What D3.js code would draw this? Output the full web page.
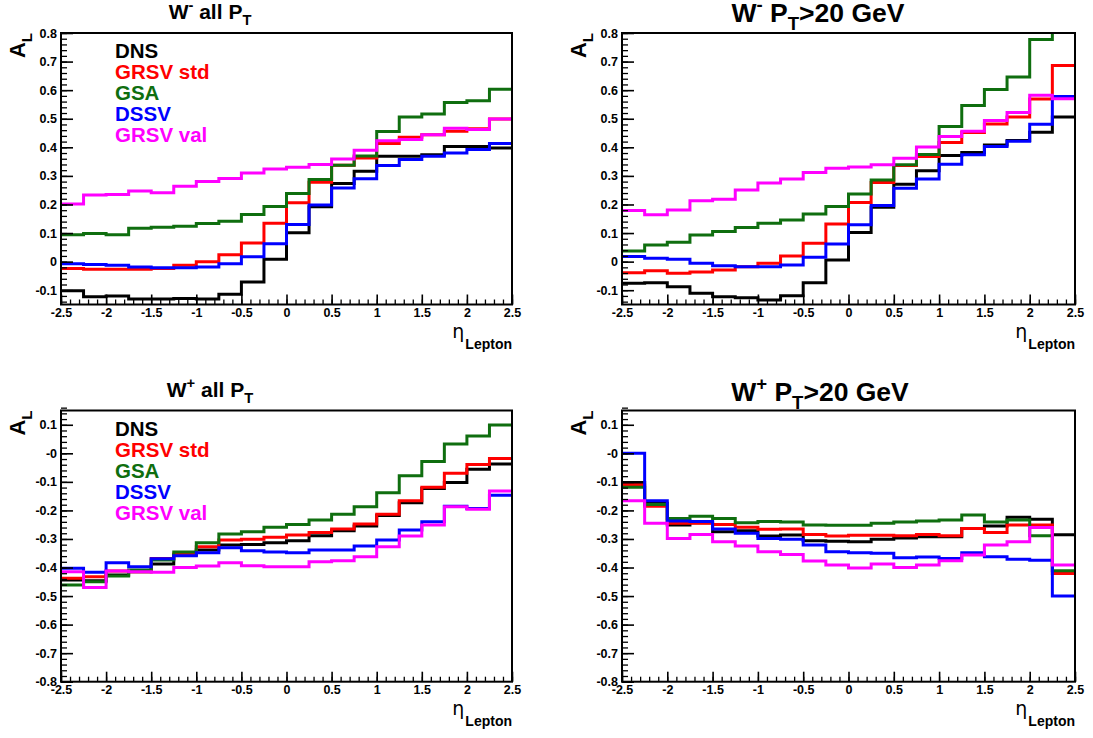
<!DOCTYPE html>
<html><head><meta charset="utf-8">
<script src="https://cdn.jsdelivr.net/npm/d3@7"></script>
<style>
html,body{margin:0;padding:0;background:#fff;}
svg text{font-family:"Liberation Sans",Arial,Helvetica,sans-serif;font-weight:bold;}
</style></head><body>
<svg id="c" width="1093" height="738"></svg>
<script>
// ---- data ----
const binEdges = [-2.5,-2.25,-2,-1.75,-1.5,-1.25,-1,-0.75,-0.5,-0.25,0,0.25,0.5,0.75,1,1.25,1.5,1.75,2,2.25,2.5];
const seriesNames = ["DNS","GRSV std","GSA","DSSV","GRSV val"];
const seriesColors = ["#000000","#ff0000","#0f6e0f","#0000ff","#ff00ff"];
const xTickValues = [-2.5,-2,-1.5,-1,-0.5,0,0.5,1,1.5,2,2.5];
const xTickLabels = ["-2.5","-2","-1.5","-1","-0.5","0","0.5","1","1.5","2","2.5"];
const yTickValuesTop = [0.8,0.7,0.6,0.5,0.4,0.3,0.2,0.1,0,-0.1];
const yTickLabelsTop = ["0.8","0.7","0.6","0.5","0.4","0.3","0.2","0.1","0","-0.1"];
const yTickValuesBottom = [0.1,0,-0.1,-0.2,-0.3,-0.4,-0.5,-0.6,-0.7,-0.8];
const yTickLabelsBottom = ["0.1","-0","-0.1","-0.2","-0.3","-0.4","-0.5","-0.6","-0.7","-0.8"];

// W- all PT
const wmAllDNS     = [-0.102,-0.123,-0.12,-0.131,-0.131,-0.129,-0.131,-0.114,-0.071,0.008,0.101,0.192,0.273,0.316,0.369,0.369,0.374,0.403,0.403,0.398];
const wmAllGRSVstd = [-0.024,-0.027,-0.027,-0.027,-0.024,-0.013,0.0,0.024,0.065,0.134,0.206,0.278,0.337,0.363,0.413,0.435,0.444,0.456,0.465,0.499];
const wmAllGSA     = [0.094,0.098,0.094,0.117,0.12,0.124,0.133,0.141,0.165,0.193,0.238,0.287,0.337,0.37,0.455,0.506,0.517,0.557,0.563,0.603];
const wmAllDSSV    = [-0.007,-0.01,-0.013,-0.019,-0.021,-0.021,-0.019,-0.007,0.017,0.063,0.13,0.198,0.258,0.29,0.336,0.357,0.369,0.38,0.392,0.413];
const wmAllGRSVval = [0.202,0.233,0.235,0.247,0.241,0.264,0.28,0.291,0.31,0.324,0.33,0.34,0.359,0.39,0.423,0.427,0.444,0.467,0.462,0.499];

// W- PT>20 GeV
const wmPtDNS     = [-0.076,-0.074,-0.088,-0.111,-0.123,-0.126,-0.134,-0.119,-0.074,0.006,0.102,0.19,0.271,0.318,0.371,0.382,0.408,0.424,0.453,0.506];
const wmPtGRSVstd = [-0.039,-0.032,-0.041,-0.036,-0.029,-0.018,-0.006,0.02,0.064,0.132,0.207,0.277,0.336,0.368,0.417,0.452,0.482,0.506,0.569,0.686];
const wmPtGSA     = [0.037,0.058,0.068,0.093,0.105,0.119,0.134,0.146,0.167,0.193,0.237,0.286,0.339,0.375,0.473,0.546,0.602,0.646,0.777,0.86];
const wmPtDSSV    = [0.018,0.012,0.008,-0.006,-0.014,-0.018,-0.018,-0.012,0.015,0.062,0.129,0.196,0.257,0.289,0.341,0.374,0.403,0.421,0.481,0.578];
const wmPtGRSVval = [0.179,0.164,0.181,0.213,0.218,0.251,0.275,0.289,0.312,0.327,0.331,0.339,0.362,0.401,0.438,0.456,0.494,0.522,0.582,0.57];

// W+ all PT
const wpAllDNS     = [-0.444,-0.446,-0.426,-0.415,-0.388,-0.356,-0.339,-0.321,-0.319,-0.313,-0.306,-0.289,-0.271,-0.255,-0.218,-0.173,-0.123,-0.102,-0.056,-0.037];
const wpAllGRSVstd = [-0.438,-0.432,-0.412,-0.415,-0.368,-0.353,-0.327,-0.304,-0.301,-0.294,-0.286,-0.277,-0.265,-0.248,-0.213,-0.166,-0.119,-0.07,-0.039,-0.018];
const wpAllGSA     = [-0.461,-0.45,-0.43,-0.409,-0.374,-0.346,-0.313,-0.283,-0.275,-0.259,-0.249,-0.234,-0.213,-0.187,-0.138,-0.079,-0.029,0.033,0.061,0.099];
const wpAllDSSV    = [-0.403,-0.417,-0.383,-0.397,-0.369,-0.359,-0.348,-0.331,-0.341,-0.346,-0.348,-0.339,-0.339,-0.325,-0.304,-0.269,-0.24,-0.185,-0.193,-0.147];
const wpAllGRSVval = [-0.415,-0.47,-0.412,-0.415,-0.417,-0.4,-0.395,-0.383,-0.394,-0.397,-0.397,-0.38,-0.376,-0.362,-0.327,-0.29,-0.251,-0.187,-0.196,-0.132];

// W+ PT>20 GeV
const wpPtDNS     = [-0.102,-0.175,-0.251,-0.243,-0.275,-0.271,-0.29,-0.286,-0.306,-0.308,-0.31,-0.301,-0.297,-0.292,-0.292,-0.263,-0.255,-0.224,-0.231,-0.285];
const wpPtGRSVstd = [-0.111,-0.185,-0.245,-0.245,-0.249,-0.259,-0.266,-0.265,-0.284,-0.29,-0.287,-0.287,-0.289,-0.284,-0.289,-0.263,-0.277,-0.251,-0.251,-0.421];
const wpPtGSA     = [-0.119,-0.179,-0.228,-0.22,-0.228,-0.243,-0.239,-0.241,-0.251,-0.252,-0.252,-0.245,-0.241,-0.237,-0.234,-0.216,-0.241,-0.234,-0.289,-0.411];
const wpPtDSSV    = [0.0,-0.166,-0.237,-0.239,-0.265,-0.28,-0.298,-0.301,-0.321,-0.345,-0.348,-0.35,-0.366,-0.363,-0.368,-0.348,-0.362,-0.371,-0.375,-0.5];
const wpPtGRSVval = [-0.166,-0.245,-0.298,-0.284,-0.31,-0.325,-0.345,-0.354,-0.377,-0.391,-0.402,-0.388,-0.4,-0.391,-0.376,-0.356,-0.321,-0.31,-0.26,-0.391];

// ---- layout ----
const panels = [
  {left:61, right:512, top:33, bottom:304.5, ydom:[-0.15,0.8], yt:yTickValuesTop, yl:yTickLabelsTop,
   series:[wmAllDNS,wmAllGRSVstd,wmAllGSA,wmAllDSSV,wmAllGRSVval], legend:true,
   title:{sign:"-", rest:" all P", big:false, cx:210, base:19}},
  {left:622, right:1075, top:33, bottom:304.5, ydom:[-0.15,0.8], yt:yTickValuesTop, yl:yTickLabelsTop,
   series:[wmPtDNS,wmPtGRSVstd,wmPtGSA,wmPtDSSV,wmPtGRSVval], legend:false,
   title:{sign:"-", rest:" P", big:true, cx:818, base:22}},
  {left:61, right:512, top:410.5, bottom:681.7, ydom:[-0.8,0.15], yt:yTickValuesBottom, yl:yTickLabelsBottom,
   series:[wpAllDNS,wpAllGRSVstd,wpAllGSA,wpAllDSSV,wpAllGRSVval], legend:true,
   title:{sign:"+", rest:" all P", big:false, cx:210, base:397}},
  {left:622, right:1075, top:410.5, bottom:681.7, ydom:[-0.8,0.15], yt:yTickValuesBottom, yl:yTickLabelsBottom,
   series:[wpPtDNS,wpPtGRSVstd,wpPtGSA,wpPtDSSV,wpPtGRSVval], legend:false,
   title:{sign:"+", rest:" P", big:true, cx:820, base:401}}
];

const svg = d3.select("#c");
svg.append("rect").attr("width",1093).attr("height",738).attr("fill","#fff");

panels.forEach((p,pi)=>{
  const x = d3.scaleLinear().domain([-2.5,2.5]).range([p.left,p.right]);
  const y = d3.scaleLinear().domain(p.ydom).range([p.bottom,p.top]);
  const g = svg.append("g");
  const cid = "clip"+pi;
  svg.append("clipPath").attr("id",cid).append("rect")
    .attr("x",p.left).attr("y",p.top).attr("width",p.right-p.left).attr("height",p.bottom-p.top);

  // histograms
  const line = d3.line().x(d=>x(d[0])).y(d=>y(d[1])).curve(d3.curveStepAfter);
  p.series.forEach((vals,si)=>{
    const pts = vals.map((v,i)=>[binEdges[i],v]);
    pts.push([binEdges[binEdges.length-1], vals[vals.length-1]]);
    g.append("path").attr("d",line(pts)).attr("fill","none")
      .attr("stroke",seriesColors[si]).attr("stroke-width",3)
      .attr("clip-path","url(#"+cid+")");
  });

  // minor ticks
  const yMinor = d3.range(Math.round(p.ydom[0]*50), Math.round(p.ydom[1]*50)+1).map(k=>k/50);
  g.append("g").attr("transform",`translate(${p.left},0)`)
    .call(d3.axisLeft(y).tickValues(yMinor).tickSize(-6).tickFormat(""))
    .call(s=>{s.select(".domain").remove(); s.selectAll("line").attr("stroke","#000").attr("stroke-width",1.3);});
  const xMinor = d3.range(-25,26).map(k=>k/10);
  g.append("g").attr("transform",`translate(0,${p.bottom})`)
    .call(d3.axisBottom(x).tickValues(xMinor).tickSize(-5).tickFormat(""))
    .call(s=>{s.select(".domain").remove(); s.selectAll("line").attr("stroke","#000").attr("stroke-width",1.3);});

  // major axes
  g.append("g").attr("transform",`translate(${p.left},0)`)
    .call(d3.axisLeft(y).tickValues(p.yt).tickSize(-12).tickPadding(4).tickFormat((d,i)=>p.yl[i]))
    .call(s=>{s.select(".domain").remove();
      s.selectAll("line").attr("stroke","#000").attr("stroke-width",1.6);
      s.selectAll("text").attr("fill","#000").style("font-size","12.5px").style("font-family",null);});
  g.append("g").attr("transform",`translate(0,${p.bottom})`)
    .call(d3.axisBottom(x).tickValues(xTickValues).tickSize(-10).tickPadding(3.5).tickFormat((d,i)=>xTickLabels[i]))
    .call(s=>{s.select(".domain").remove();
      s.selectAll("line").attr("stroke","#000").attr("stroke-width",1.6);
      s.selectAll("text").attr("fill","#000").style("font-size","12.5px").style("font-family",null);});

  // frame
  g.append("rect").attr("x",p.left).attr("y",p.top).attr("width",p.right-p.left).attr("height",p.bottom-p.top)
    .attr("fill","none").attr("stroke","#000").attr("stroke-width",2);

  // title
  const t = p.title;
  const fs = t.big ? 26.5 : 21;
  const tt = svg.append("text").attr("x",t.cx).attr("y",t.base).attr("text-anchor","middle")
    .style("font-size",fs+"px").attr("fill","#000");
  tt.append("tspan").text("W");
  tt.append("tspan").text(t.sign).style("font-size",(fs*0.7)+"px").attr("dy",-fs*0.42);
  tt.append("tspan").text(t.rest).attr("dy",fs*0.42);
  tt.append("tspan").text("T").style("font-size",(fs*0.7)+"px").attr("dy",fs*0.3);
  if(t.big){
    tt.append("tspan").text(">20 GeV").attr("dy",-fs*0.3);
  }

  // y title A_L
  const yt = svg.append("text").attr("transform",`translate(${p.left-36},${p.top}) rotate(-90)`)
    .attr("text-anchor","end").style("font-size","22px").attr("fill","#000");
  yt.append("tspan").text("A");
  yt.append("tspan").text("L").style("font-size","15px").attr("dy",6.5);

  // x title eta_Lepton
  const xt = svg.append("text").attr("x",p.right).attr("y",p.bottom+33).attr("text-anchor","end").attr("fill","#000");
  xt.append("tspan").text("η").style("font-size","19px").style("font-weight","normal").style("font-family","'DejaVu Sans',sans-serif");
  xt.append("tspan").text("Lepton").style("font-size","14px").attr("dy",11.5).attr("dx",1);

  // legend
  if(p.legend){
    seriesNames.forEach((n,si)=>{
      svg.append("text").attr("x",115).attr("y",p.top+25+si*21.1)
        .style("font-size","20.5px").attr("fill",seriesColors[si]).text(n);
    });
  }
});
</script>
</body></html>
